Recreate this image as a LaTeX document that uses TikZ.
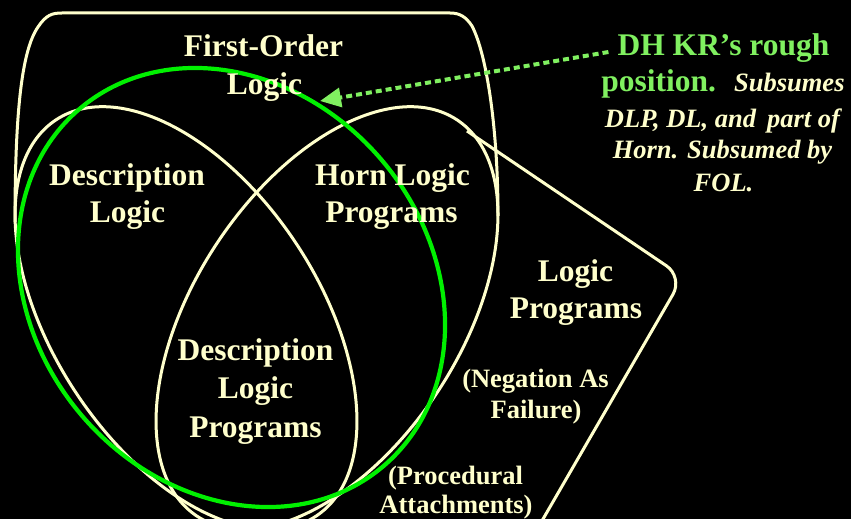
\documentclass[tikz,border=0pt]{standalone}
\usepackage{fontspec}
\setmainfont{Liberation Serif}
\usetikzlibrary{arrows.meta}
\definecolor{cream}{HTML}{FFFFCC}
\definecolor{lgreen}{HTML}{80F060}
\definecolor{vgreen}{HTML}{00F000}
\begin{document}
\begin{tikzpicture}[x=1pt,y=-1pt,
  outline/.style={draw=cream,line width=3pt},
  greenring/.style={draw=vgreen,line width=4.2pt},
  bigtxt/.style={text=cream,font=\fontsize{31.5pt}{38pt}\selectfont\bfseries,anchor=base,inner sep=0pt},
  smalltxt/.style={text=cream,font=\fontsize{26.5pt}{31pt}\selectfont\bfseries,anchor=base,inner sep=0pt},
  greentxt/.style={text=lgreen,font=\fontsize{31.5pt}{38pt}\selectfont\bfseries,anchor=base,inner sep=0pt},
  italtxt/.style={text=cream,font=\fontsize{26.5pt}{31pt}\selectfont\bfseries\itshape,anchor=base,inner sep=0pt},
  pointer/.style={lgreen,line width=4pt,dash pattern=on 6pt off 4pt,-{Triangle[length=21pt,width=19pt]}}]
\fill[black] (0,0) rectangle (851,519);
\useasboundingbox (0,0) rectangle (851,519);
\clip (0,0) rectangle (851,519);
% First-Order Logic outline
\draw[outline] (15,222) .. controls (15,110) and (22,50) .. (38,27)
  .. controls (46,15) and (52,13) .. (62,13) -- (450,13)
  .. controls (460,13) and (466,17) .. (472,26)
  .. controls (487,55) and (498,130) .. (498,216);
% Logic Programs outline
\draw[outline,rounded corners=20pt] (467,131) -- (683,277) -- (528,545);
% Description Logic ellipse
\draw[outline,shift={(186,318)},rotate=-56.8] (0,0) ellipse [x radius=237pt,y radius=133pt];
% Horn Logic Programs ellipse
\draw[outline,shift={(327,318)},rotate=56.8] (0,0) ellipse [x radius=237pt,y radius=133pt];
% DH KR ellipse
\draw[greenring,shift={(231.5,287.5)},rotate=-49.6] (0,0) ellipse [x radius=234.5pt,y radius=197pt];
% labels
\node[bigtxt] (fo1) at (263.5,57) {First-Order};
\node[bigtxt] (fo2) at (264.5,95) {Logic};
\node[bigtxt] (dl1) at (127,185) {Description};
\node[bigtxt] (dl2) at (127.5,222) {Logic};
\node[bigtxt] (hl1) at (392.5,185) {Horn Logic};
\node[bigtxt] (hl2) at (391.5,222) {Programs};
\node[bigtxt] (dlp1) at (255.5,360) {Description};
\node[bigtxt] (dlp2) at (255.5,398) {Logic};
\node[bigtxt] (dlp3) at (255.5,437) {Programs};
\node[bigtxt] (lp1) at (575.5,281) {Logic};
\node[bigtxt] (lp2) at (576,318) {Programs};
\node[smalltxt] (na1) at (535.5,387) {(Negation As};
\node[smalltxt] (na2) at (536,418) {Failure)};
\node[smalltxt] (pa1) at (455.5,484) {(Procedural};
\node[smalltxt] (pa2) at (456,513) {Attachments)};
\node[greentxt] (dh1) at (723.5,56) {DH KR’s rough};
\node[greentxt] (dh2) at (723,92) {position.\hspace{18pt}{\color{cream}\fontsize{26.5pt}{31pt}\selectfont\itshape Subsumes}};
\node[italtxt] (dh3) at (722.5,127) {DLP, DL, and\hspace{11pt}part of};
\node[italtxt] (dh4) at (722.5,158) {Horn. Subsumed by};
\node[italtxt] (dh5) at (723.5,191) {FOL.};
\coordinate (tip) at (320,101);
\draw[pointer] ([shift={(-9,-4)}]dh1.base west) -- (tip);
\end{tikzpicture}
\end{document}
